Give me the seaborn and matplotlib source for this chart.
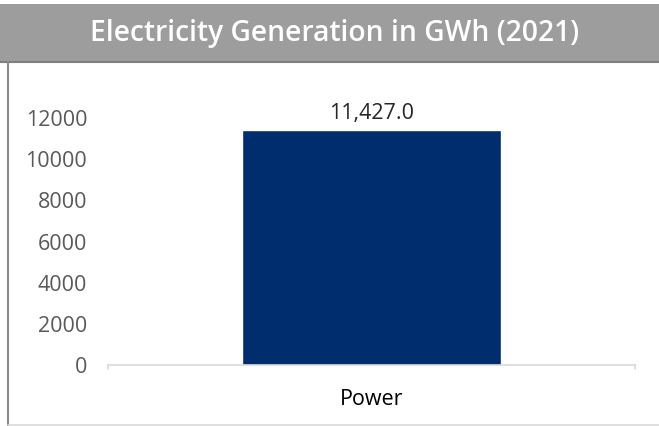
import matplotlib
matplotlib.use("Agg")
import matplotlib.pyplot as plt
import seaborn as sns
import pandas as pd
from matplotlib.patches import Rectangle
from matplotlib.lines import Line2D

categories = ["Power"]
values = [11427.0]
yticks = [0, 2000, 4000, 6000, 8000, 10000, 12000]
title = "Electricity Generation in GWh (2021)"

sns.set_theme(style="white")
plt.rcParams['font.family'] = ['Open Sans', 'DejaVu Sans']

W, H = 659, 426
fig = plt.figure(figsize=(W/100, H/100), dpi=100)
fig.patch.set_facecolor("white")

# title banner
fig.patches.append(Rectangle((0, 1-62/H), 1, 58/H, transform=fig.transFigure,
                             facecolor="#9d9d9d", edgecolor="none", zorder=0))
fig.lines.append(Line2D([0, 1], [1-62/H, 1-62/H], transform=fig.transFigure,
                        color="#7f7f7f", lw=1.5))
fig.text(0.508, 1-34/H, title, ha="center", va="center", color="white",
         fontsize=20.3, fontweight="semibold")
# borders
fig.lines.append(Line2D([7.5/W, 7.5/W], [0, 1-62/H], transform=fig.transFigure,
                        color="#8a8a8a", lw=1.5))
fig.lines.append(Line2D([7.5/W, 1], [1.5/H, 1.5/H], transform=fig.transFigure,
                        color="#d9d9d9", lw=1.2))

ax = fig.add_axes([108/W, (H-365)/H, (635-108)/W, (365-118)/H])
df = pd.DataFrame({"cat": categories, "val": values})
sns.barplot(data=df, x="cat", y="val", color="#002d6d", saturation=1,
            width=0.49, ax=ax)
ax.set_ylim(0, 12000)
ax.set_xlim(-0.5, 0.5)
ax.set_yticks(yticks)
ax.set_yticklabels([str(t) for t in yticks])
ax.set_xlabel("")
ax.set_ylabel("")
for s in ["top", "right", "left"]:
    ax.spines[s].set_visible(False)
ax.spines["bottom"].set_color("#d9d9d9")
ax.spines["bottom"].set_linewidth(1.2)
ax.tick_params(axis="y", length=0, pad=15, labelsize=15.5, labelcolor="#595959")
ax.tick_params(axis="x", length=0, pad=17, labelsize=15.5, labelcolor="#000000")
# end ticks on baseline
for xe in [-0.5, 0.5]:
    ax.plot([xe, xe], [0, -180], color="#d9d9d9", lw=1.2, clip_on=False)
for v, c in zip(values, range(len(categories))):
    ax.text(c, v + 300, f"{v:,.1f}", ha="center", va="bottom",
            fontsize=15.5, color="#262626")

fig.savefig("out.png", dpi=100, facecolor="white")
